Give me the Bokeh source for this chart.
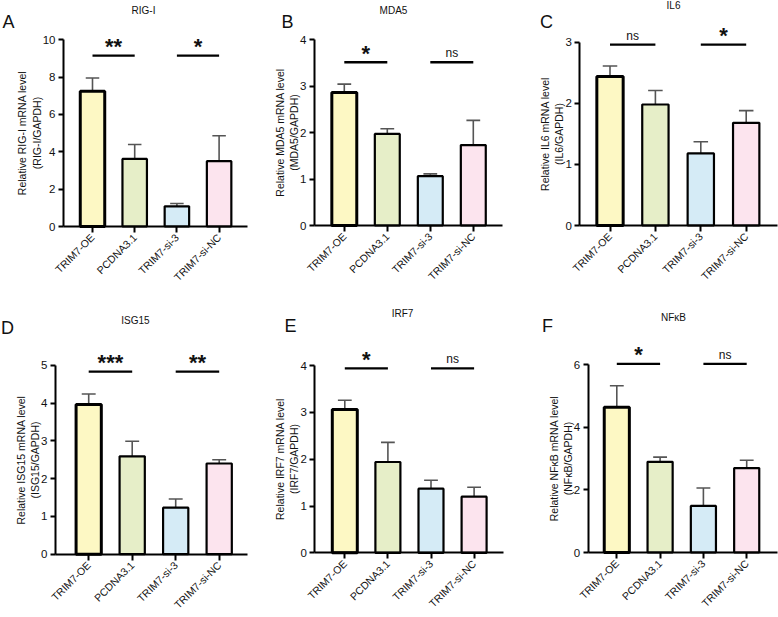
import math

from bokeh.core.properties import value
from bokeh.embed import file_html
from bokeh.layouts import column, row
from bokeh.models import ColumnDataSource, FixedTicker, Label, LinearAxis, Range1d
from bokeh.plotting import figure
from bokeh.resources import INLINE

# Groups and colours shared by every panel
groups = ["TRIM7-OE", "PCDNA3.1", "TRIM7-si-3", "TRIM7-si-NC"]
bar_colors = ["#fdf8c4", "#e6eec8", "#d5ebf6", "#fce4ee"]
bar_line_widths = [3.0, 2.2, 2.2, 2.2]

# Relative mRNA levels (mean) and upper error per group
rig_i_mean = [7.25, 3.62, 1.08, 3.50]
rig_i_err = [0.70, 0.77, 0.15, 1.36]
mda5_mean = [2.86, 1.97, 1.06, 1.73]
mda5_err = [0.18, 0.11, 0.05, 0.53]
il6_mean = [2.44, 1.98, 1.18, 1.68]
il6_err = [0.17, 0.23, 0.19, 0.20]
isg15_mean = [3.96, 2.59, 1.23, 2.40]
isg15_err = [0.28, 0.40, 0.23, 0.10]
irf7_mean = [3.06, 1.94, 1.37, 1.20]
irf7_err = [0.20, 0.42, 0.18, 0.20]
nfkb_mean = [4.64, 2.90, 1.49, 2.70]
nfkb_err = [0.69, 0.15, 0.57, 0.25]

# Significance brackets: (first group, second group) and their marks
sig_pairs = [(0, 1), (2, 3)]
rig_i_sig = ["**", "*"]
mda5_sig = ["*", "ns"]
il6_sig = ["ns", "*"]
isg15_sig = ["***", "**"]
irf7_sig = ["*", "ns"]
nfkb_sig = ["*", "ns"]

# Bracket heights (data units)
rig_i_sig_y = 9.15
mda5_sig_y = 3.51
il6_sig_y = 2.96
isg15_sig_y = 4.83
irf7_sig_y = 3.94
nfkb_sig_y = 6.03

# Y tick values
rig_i_ticks = [0, 2, 4, 6, 8, 10]
mda5_ticks = [0, 1, 2, 3, 4]
il6_ticks = [0, 1, 2, 3]
isg15_ticks = [0, 1, 2, 3, 4, 5]
irf7_ticks = [0, 1, 2, 3, 4]
nfkb_ticks = [0, 2, 4, 6]

FONT = "Liberation Sans"
INK = "#111111"


def make_panel(letter, gene, means, errs, sig_y, marks, yticks, g):
    """One bar panel. g holds the pixel layout of the panel inside its own canvas."""
    W, H = g["W"], g["H"]
    c0, step = g["first_center"], g["spacing"]
    y0, unit = g["zero_y"], g["unit"]
    to_x = lambda px: (px - c0) / step

    p = figure(
        width=W, height=H,
        min_border_left=0, min_border_right=0, min_border_top=0, min_border_bottom=0,
        x_range=Range1d(to_x(0), to_x(W)), y_range=Range1d(-(H - y0) / unit, y0 / unit),
        x_axis_location=None, y_axis_location=None,
        output_backend="svg", toolbar_location=None, tools="",
    )
    p.outline_line_color = None
    p.grid.visible = False
    p.background_fill_color = "white"
    p.border_fill_color = "white"

    xs = list(range(len(groups)))
    tops = [m + e for m, e in zip(means, errs)]

    # upper error bars, drawn first so the bars cover their lower end
    p.segment(x0=xs, y0=means, x1=xs, y1=tops, line_color="#555555", line_width=1.6)
    cap = 0.16
    p.segment(x0=[x - cap for x in xs], y0=tops, x1=[x + cap for x in xs], y1=tops,
              line_color="#555555", line_width=1.6)

    src = ColumnDataSource(dict(x=xs, top=means, fill=bar_colors, lw=bar_line_widths))
    p.vbar(x="x", top="top", bottom=0, width=0.58, source=src,
           fill_color="fill", line_color="black", line_width="lw")

    # significance brackets
    p.segment(x0=[a for a, b in sig_pairs], x1=[b for a, b in sig_pairs],
              y0=[sig_y] * len(sig_pairs), y1=[sig_y] * len(sig_pairs),
              line_color="black", line_width=2.4)
    mids = [(a + b) / 2 for a, b in sig_pairs]
    star_x = [m for m, t in zip(mids, marks) if t != "ns"]
    star_t = [t for t in marks if t != "ns"]
    ns_x = [m for m, t in zip(mids, marks) if t == "ns"]
    if star_x:
        p.text(x=star_x, y=[sig_y] * len(star_x), text=star_t,
               text_font=value(FONT), text_font_size="22px", text_font_style="bold",
               text_align="center", text_baseline="alphabetic", y_offset=-9,
               text_color=INK)
    if ns_x:
        p.text(x=ns_x, y=[sig_y] * len(ns_x), text=["ns"] * len(ns_x),
               text_font=value(FONT), text_font_size="12px",
               text_align="center", text_baseline="alphabetic", y_offset=-9,
               text_color=INK)

    # x axis sitting on y = 0
    xa = LinearAxis(fixed_location=0, ticker=FixedTicker(ticks=xs),
                    bounds=(to_x(g["axis_left"]), to_x(g["axis_right"])))
    xa.major_label_overrides = {i: name for i, name in enumerate(groups)}
    xa.major_label_orientation = math.pi / 4
    xa.major_label_text_font = FONT
    xa.major_label_text_font_size = "10.5px"
    xa.major_label_text_color = INK
    xa.major_label_standoff = 3
    xa.axis_line_width = 2
    xa.major_tick_line_width = 2
    xa.major_tick_out = 6
    xa.major_tick_in = 0
    xa.minor_tick_line_color = None
    p.add_layout(xa, "below")

    # y axis at the left end of the x axis
    ya = LinearAxis(fixed_location=to_x(g["axis_left"]), ticker=FixedTicker(ticks=yticks),
                    bounds=(0, yticks[-1]))
    ya.major_label_text_font = FONT
    ya.major_label_text_font_size = "11.5px"
    ya.major_label_text_color = INK
    ya.major_label_standoff = 3
    ya.axis_line_width = 2
    ya.major_tick_line_width = 2
    ya.major_tick_out = 5
    ya.major_tick_in = 0
    ya.minor_tick_line_color = None
    ya.axis_label = f"Relative {gene} mRNA level\n({gene}/GAPDH)"
    ya.axis_label_text_font = FONT
    ya.axis_label_text_font_size = "10.5px"
    ya.axis_label_text_font_style = "normal"
    ya.axis_label_text_color = INK
    ya.axis_label_standoff = -3
    p.add_layout(ya, "left")

    # gene name and panel letter (screen units from the canvas' bottom-left corner)
    tx, ty = g["title_at"]
    p.add_layout(Label(x=tx, y=H - ty, x_units="screen", y_units="screen",
                       text=gene, text_font=FONT, text_font_size="10px", text_color=INK,
                       text_align="center", text_baseline="middle"))
    lx, ly = g["letter_at"]
    p.add_layout(Label(x=lx, y=H - ly, x_units="screen", y_units="screen",
                       text=letter, text_font=FONT, text_font_size="18px", text_color=INK,
                       text_align="center", text_baseline="middle"))
    return p


layout_a = dict(W=255, H=300, axis_left=63, first_center=92, spacing=42.2, axis_right=247,
                zero_y=226, unit=18.67, title_at=(143, 10), letter_at=(8, 21))
layout_b = dict(W=255, H=300, axis_left=59, first_center=88.8, spacing=43, axis_right=247,
                zero_y=225, unit=46.5, title_at=(138, 10), letter_at=(32, 21))
layout_c = dict(W=268, H=300, axis_left=69.3, first_center=99.5, spacing=45.4, axis_right=267,
                zero_y=225, unit=61.1, title_at=(163, 5), letter_at=(36, 21))
layout_d = dict(W=255, H=317, axis_left=55, first_center=88.2, spacing=43.5, axis_right=247,
                zero_y=253.7, unit=37.8, title_at=(135, 20), letter_at=(7, 27))
layout_e = dict(W=255, H=317, axis_left=59.3, first_center=89.3, spacing=43.1, axis_right=247.5,
                zero_y=252.3, unit=46.8, title_at=(147, 13), letter_at=(35, 25))
layout_f = dict(W=268, H=317, axis_left=77.7, first_center=106.3, spacing=43.3, axis_right=266.7,
                zero_y=252, unit=31.28, title_at=(163, 17), letter_at=(37, 25))

pa = make_panel("A", "RIG-I", rig_i_mean, rig_i_err, rig_i_sig_y, rig_i_sig, rig_i_ticks, layout_a)
pb = make_panel("B", "MDA5", mda5_mean, mda5_err, mda5_sig_y, mda5_sig, mda5_ticks, layout_b)
pc = make_panel("C", "IL6", il6_mean, il6_err, il6_sig_y, il6_sig, il6_ticks, layout_c)
pd = make_panel("D", "ISG15", isg15_mean, isg15_err, isg15_sig_y, isg15_sig, isg15_ticks, layout_d)
pe = make_panel("E", "IRF7", irf7_mean, irf7_err, irf7_sig_y, irf7_sig, irf7_ticks, layout_e)
pf = make_panel("F", "NFκB", nfkb_mean, nfkb_err, nfkb_sig_y, nfkb_sig, nfkb_ticks, layout_f)

layout = column(row(pa, pb, pc), row(pd, pe, pf))
open("out.html", "w").write(file_html(layout, INLINE))
